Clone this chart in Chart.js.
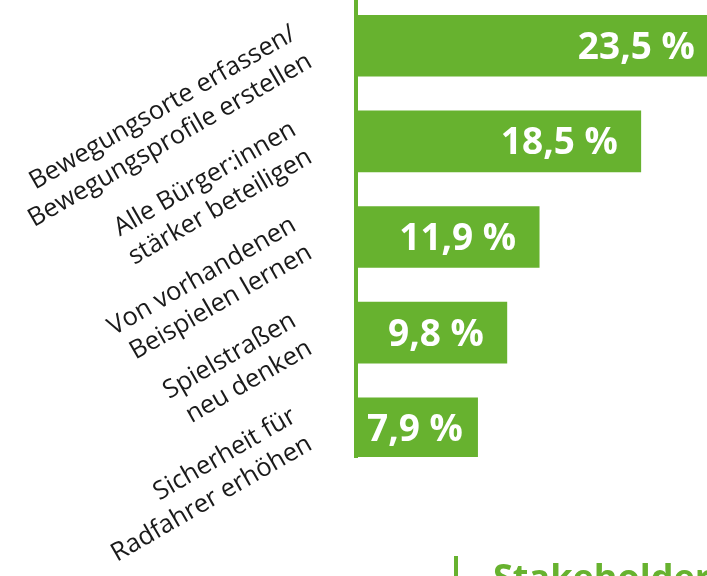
<!DOCTYPE html>
<html>
<head>
    <title>Ideen</title>
    <script src="https://cdn.jsdelivr.net/npm/chart.js"></script>
    <style>
        body {
            margin: 0;
            overflow: hidden;
            background: #fff;
        }
        #wrap {
            position: relative;
            width: 707px;
            height: 576px;
            overflow: hidden;
        }
        #next-section {
            position: absolute;
            left: 454px;
            top: 556px;
            border-left: 4px solid #67b22f;
            padding-left: 35px;
            padding-top: 3px;
            font-family: "Open Sans", sans-serif;
            font-weight: bold;
            font-size: 36px;
            line-height: 36px;
            color: #67b22f;
            white-space: nowrap;
        }
    </style>
</head>
<body>
    <div id="wrap">
        <canvas id="ideasChart"></canvas>
        <div id="next-section">Stakeholder</div>
    </div>

    <script>
        const categories = [
            ["Bewegungsorte erfassen/", "Bewegungsprofile erstellen"],
            ["Alle Bürger:innen", "stärker beteiligen"],
            ["Von vorhandenen", "Beispielen lernen"],
            ["Spielstraßen", "neu denken"],
            ["Sicherheit für", "Radfahrer erhöhen"]
        ];
        const values = [23.5, 18.5, 11.9, 9.8, 7.9];

        const green = "#67b22f";

        // white value labels inside the bar ends
        const valueLabels = {
            id: "valueLabels",
            afterDatasetsDraw(chart) {
                const ctx = chart.ctx;
                const meta = chart.getDatasetMeta(0);
                ctx.save();
                ctx.font = "bold 37px 'Open Sans', sans-serif";
                ctx.fillStyle = "#fff";
                ctx.textAlign = "right";
                ctx.textBaseline = "alphabetic";
                meta.data.forEach((bar, i) => {
                    const { x, y, base } = bar.getProps(["x", "y", "base"], true);
                    const text = values[i].toFixed(1).replace(".", ",") + " %";
                    const w = ctx.measureText(text).width;
                    const right = Math.max(x - 23, base + 11 + w);
                    ctx.fillText(text, right, y + 13);
                });
                ctx.restore();
            }
        };

        const chart = new Chart(document.getElementById("ideasChart"), {
            type: "bar",
            data: {
                datasets: [{
                    data: values.map((v, i) => ({ x: v, y: i })),
                    backgroundColor: green,
                    barThickness: 61
                }]
            },
            options: {
                indexAxis: "y",
                responsive: true,
                maintainAspectRatio: false,
                animation: false,
                layout: { padding: { top: 0, right: 0, bottom: 119, left: 0 } },
                plugins: {
                    legend: { display: false },
                    tooltip: { enabled: false }
                },
                scales: {
                    x: {
                        type: "linear",
                        min: 0,
                        max: 22.8,
                        display: false
                    },
                    y: {
                        type: "linear",
                        reverse: true,
                        offset: false,
                        min: -0.478,
                        max: 4.3,
                        afterBuildTicks: (scale) => {
                            scale.ticks = categories.map((c, i) => ({ value: i }));
                        },
                        afterFit: (scale) => {
                            scale.width = 356;
                            scale.paddingTop = 0;
                            scale.paddingBottom = 0;
                        },
                        grid: { display: false, drawTicks: false },
                        border: { display: true, color: green, width: 4 },
                        ticks: {
                            autoSkip: false,
                            minRotation: 30,
                            maxRotation: 30,
                            padding: 54,
                            color: "#1a1a1a",
                            font: { family: "'Open Sans', sans-serif", size: 25.5, lineHeight: 1.25 },
                            callback: (value) => categories[value]
                        }
                    }
                }
            },
            plugins: [valueLabels]
        });
    </script>
</body>
</html>
